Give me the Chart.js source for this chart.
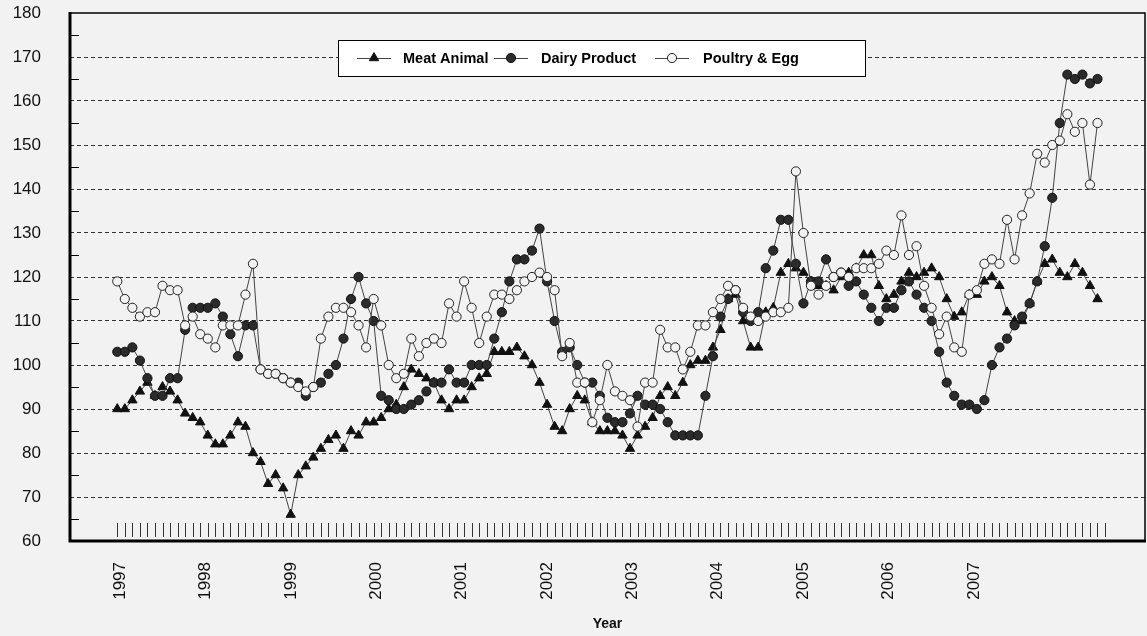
<!DOCTYPE html>
<html><head><meta charset="utf-8">
<script src="https://cdn.jsdelivr.net/npm/chart.js@4.4.0/dist/chart.umd.min.js"></script>
<style>html,body{margin:0;padding:0;background:#f2f2f2;}canvas{display:block}</style>
</head><body>
<canvas id="c" width="1147" height="636"></canvas>
<script>
// ---- data (monthly, Jan 1997 onward) ----
const yearLabels = ['1997','1998','1999','2000','2001','2002','2003','2004','2005','2006','2007'];
const seriesNames = ['Meat Animal','Dairy Product','Poultry & Egg'];
const meatAnimal = [90,90,92,94,96,93,95,94,92,89,88,87,84,82,82,84,87,86,80,78,73,75,72,66,
75,77,79,81,83,84,81,85,84,87,87,88,90,91,95,99,98,97,96,92,90,92,92,95,97,
98,103,103,103,104,102,100,96,91,86,85,90,93,92,87,85,85,85,84,81,84,86,88,93,
95,93,96,100,101,101,104,108,115,116,110,104,104,112,113,121,123,122,121,119,118,118,117,120,121,122,
125,125,118,115,116,119,121,120,121,122,120,115,111,112,116,116,119,120,118,112,110,110,114,119,123,124,121,120,123,121,118,115];
const dairyProduct = [103,103,104,101,97,93,93,97,97,108,113,113,113,114,111,107,102,109,109,99,98,98,97,96,
96,93,95,96,98,100,106,115,120,114,110,93,92,90,90,91,92,94,96,96,99,96,96,100,100,
100,106,112,119,124,124,126,131,119,110,103,104,100,96,96,93,88,87,87,89,93,91,91,90,
87,84,84,84,84,93,102,111,115,117,112,110,112,122,126,133,133,123,114,119,119,124,120,121,118,119,
116,113,110,113,113,117,119,116,113,110,103,96,93,91,91,90,92,100,104,106,109,111,114,119,127,138,155,166,165,166,164,165];
const poultryEgg = [119,115,113,111,112,112,118,117,117,109,111,107,106,104,109,109,109,116,123,99,98,98,97,96,
95,94,95,106,111,113,113,112,109,104,115,109,100,97,98,106,102,105,106,105,114,111,119,113,105,
111,116,116,115,117,119,120,121,120,117,102,105,96,96,87,92,100,94,93,92,86,96,96,108,
104,104,99,103,109,109,112,115,118,117,113,111,110,111,112,112,113,144,130,118,116,118,120,121,120,122,
122,122,123,126,125,134,125,127,118,113,107,111,104,103,116,117,123,124,123,133,124,134,139,148,146,150,151,157,153,155,141,155];
const yMin = 60, yMax = 180, yStep = 10;

const BG = '#f2f2f2';
const toXY = arr => arr.map((v, i) => ({x: i, y: v}));
const FONT = "'Liberation Sans', Arial, sans-serif";

const frameAndTicks = {
  id: 'frameAndTicks',
  afterLayout(chart) {
    // stretch the plot area to the right edge of the frame
    const a = chart.chartArea, xs = chart.scales.x;
    a.right = chart.width - 2; a.width = a.right - a.left;
    xs.right = a.right; xs.width = xs.right - xs.left;
    xs.configure();
  },
  beforeDraw(chart) {
    const ctx = chart.ctx;
    ctx.save(); ctx.fillStyle = BG; ctx.fillRect(0, 0, chart.width, chart.height); ctx.restore();
  },
  afterDraw(chart) {
    const ctx = chart.ctx, a = chart.chartArea, xs = chart.scales.x, ys = chart.scales.y;
    ctx.save();
    // monthly tick marks along the bottom
    ctx.strokeStyle = '#333'; ctx.lineWidth = 1;
    ctx.beginPath();
    for (let i = 0; i <= meatAnimal.length; i++) {
      const x = Math.round(xs.getPixelForValue(i)) + 0.5;
      ctx.moveTo(x, a.bottom - 18); ctx.lineTo(x, a.bottom - 4);
    }
    ctx.stroke();
    // minor y ticks
    ctx.strokeStyle = '#000';
    ctx.beginPath();
    for (let v = yMin + yStep / 2; v < yMax; v += yStep) {
      const y = Math.round(ys.getPixelForValue(v)) + 0.5;
      ctx.moveTo(a.left, y); ctx.lineTo(a.left + 9, y);
    }
    ctx.stroke();
    // frame
    ctx.strokeStyle = '#000';
    ctx.lineWidth = 1.5;
    ctx.beginPath();
    ctx.moveTo(a.left, a.top); ctx.lineTo(a.right, a.top); ctx.lineTo(a.right, a.bottom);
    ctx.stroke();
    ctx.lineWidth = 3;
    ctx.beginPath();
    ctx.moveTo(a.left, a.top - 1); ctx.lineTo(a.left, a.bottom); ctx.lineTo(a.right + 1, a.bottom);
    ctx.stroke();
    // legend box inside plot
    const lx = 338, ly = 40, lw = 527, lh = 36, cy = ly + lh / 2;
    ctx.fillStyle = '#fff';
    ctx.fillRect(lx, ly, lw, lh);
    ctx.lineWidth = 1; ctx.strokeStyle = '#000';
    ctx.strokeRect(lx + 0.5, ly + 0.5, lw, lh);
    const items = [{x: 357, tx: 403}, {x: 494, tx: 541}, {x: 655, tx: 703}];
    chart.data.datasets.forEach((ds, k) => {
      const it = items[k];
      ctx.strokeStyle = '#444'; ctx.lineWidth = 1;
      ctx.beginPath(); ctx.moveTo(it.x, cy + 0.5); ctx.lineTo(it.x + 34, cy + 0.5); ctx.stroke();
      ctx.fillStyle = ds.pointBackgroundColor; ctx.strokeStyle = ds.pointBorderColor; ctx.lineWidth = 1;
      Chart.helpers.drawPoint(ctx, {pointStyle: ds.pointStyle, radius: ds.pointRadius, rotation: 0, borderWidth: 1}, it.x + 17, cy);
      ctx.fillStyle = '#000'; ctx.font = 'bold 14.5px ' + FONT; ctx.textBaseline = 'middle'; ctx.textAlign = 'left';
      ctx.fillText(ds.label, it.tx, cy + 1);
    });
    ctx.restore();
  }
};

new Chart(document.getElementById('c'), {
  type: 'line',
  data: {
    datasets: [
      {label: seriesNames[0], data: toXY(meatAnimal), order: 2, borderColor: '#444', borderWidth: 1,
       pointStyle: 'triangle', pointRadius: 5.4, pointBackgroundColor: '#111', pointBorderColor: '#111', pointBorderWidth: 1},
      {label: seriesNames[1], data: toXY(dairyProduct), order: 1, borderColor: '#444', borderWidth: 1,
       pointStyle: 'circle', pointRadius: 4.6, pointBackgroundColor: '#2b2b2b', pointBorderColor: '#111', pointBorderWidth: 1},
      {label: seriesNames[2], data: toXY(poultryEgg), order: 0, borderColor: '#444', borderWidth: 1,
       pointStyle: 'circle', pointRadius: 4.6, pointBackgroundColor: BG, pointBorderColor: '#222', pointBorderWidth: 1}
    ]
  },
  options: {
    responsive: false, animation: false, devicePixelRatio: 1,
    layout: {padding: {top: 13, right: 2, left: 0, bottom: 0}},
    plugins: {legend: {display: false}, tooltip: {enabled: false}},
    elements: {line: {tension: 0}},
    scales: {
      x: {
        type: 'linear', min: -6.27, max: 136.3,
        grid: {display: false, drawTicks: false},
        border: {display: false},
        afterBuildTicks: s => { s.ticks = yearLabels.map((l, k) => ({value: 0.4 + k * 11.32})); },
        afterFit: s => { s.height = 95; s.paddingLeft = 0; s.paddingRight = 0; },
        ticks: {autoSkip: false, minRotation: 90, maxRotation: 90, padding: 21, color: '#111',
                font: {family: FONT, size: 17}, callback: (v, i) => yearLabels[i]},
        title: {display: true, text: 'Year', color: '#111', font: {family: FONT, size: 14, weight: 'bold'}, padding: {top: 0, bottom: 3}}
      },
      y: {
        min: yMin, max: yMax,
        afterFit: s => { s.width = 70; s.paddingTop = 0; s.paddingBottom = 0; },
        grid: {drawTicks: false, lineWidth: 1, color: c => (c.tick.value === yMin || c.tick.value === yMax) ? 'rgba(0,0,0,0)' : '#333'},
        border: {display: false, dash: [4, 3]},
        ticks: {stepSize: yStep, padding: 29, color: '#111', font: {family: FONT, size: 17}}
      }
    }
  },
  plugins: [frameAndTicks]
});
</script>
</body></html>
